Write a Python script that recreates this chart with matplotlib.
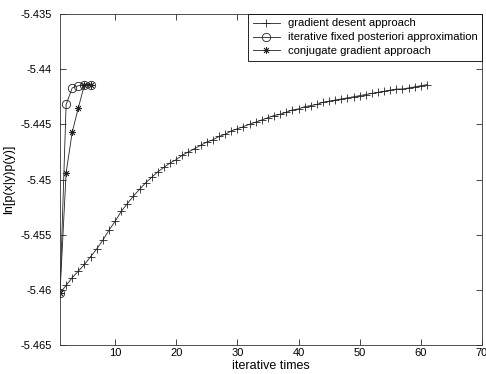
import matplotlib
matplotlib.use("Agg")
import matplotlib.pyplot as plt

plt.rcParams['font.family'] = ['Liberation Sans', 'DejaVu Sans']
plt.rcParams['axes.unicode_minus'] = False

# Gradient descent approach (iterations 1..61)
gd_x = list(range(1, 62))
gd_y = [-5.4603, -5.4596, -5.4589, -5.4583, -5.4577, -5.4570, -5.4563, -5.4555,
        -5.4546, -5.4538, -5.4529, -5.4522, -5.4515, -5.4509, -5.4503, -5.4498,
        -5.4493, -5.4489, -5.4485, -5.4482, -5.4478, -5.4475, -5.4472, -5.4469,
        -5.4466, -5.4464, -5.4461, -5.4459, -5.4456, -5.4454, -5.4452, -5.4450,
        -5.4448, -5.4446, -5.4444, -5.4442, -5.4441, -5.4439, -5.4437, -5.4436,
        -5.4434, -5.4433, -5.4432, -5.4430, -5.4429, -5.4428, -5.4427, -5.4426,
        -5.4425, -5.4424, -5.4423, -5.4422, -5.4421, -5.4420, -5.4419, -5.4418,
        -5.4418, -5.4417, -5.4416, -5.4415, -5.4414]

# Iterative fixed posteriori approximation
ifp_x = [1, 2, 3, 4, 5, 6]
ifp_y = [-5.4603, -5.4432, -5.4417, -5.4415, -5.4414, -5.4414]

# Conjugate gradient approach
cg_x = [1, 2, 3, 4, 5, 6]
cg_y = [-5.4603, -5.4494, -5.4457, -5.4435, -5.4414, -5.4414]

labels = ['gradient desent approach',
          'iterative fixed posteriori approximation',
          'conjugate gradient approach']

xticks = [10, 20, 30, 40, 50, 60, 70]
yticks = [-5.465, -5.46, -5.455, -5.45, -5.445, -5.44, -5.435]
ytick_labels = ['-5.465', '-5.46', '-5.455', '-5.45', '-5.445', '-5.44', '-5.435']

fig = plt.figure(figsize=(4.86, 3.74), dpi=100)
ax = fig.add_axes([60/486, 1-345/374, 422/486, 331/374])

lw = 0.6
ax.plot(gd_x, gd_y, color='#222222', lw=lw, marker='+', ms=6, mew=0.6, label=labels[0])
ax.plot(ifp_x, ifp_y, color='#222222', lw=lw, marker='o', ms=6, mfc='none', mew=0.6, label=labels[1])
ax.plot(cg_x, cg_y, color='#222222', lw=lw, marker=(8, 2, 0), ms=5, mew=0.6, label=labels[2])

ax.set_xlim(1, 70)
ax.set_ylim(-5.465, -5.435)
ax.set_xticks(xticks)
ax.set_yticks(yticks)
ax.set_yticklabels(ytick_labels)
ax.tick_params(direction='in', top=True, right=True, labelsize=8, length=4, width=0.5)
ax.tick_params(axis='x', pad=2.5)
ax.tick_params(axis='y', pad=6)
for s in ax.spines.values():
    s.set_linewidth(0.6)
    s.set_color('#333333')

ax.set_xlabel('iterative times', fontsize=9, labelpad=1)
ax.set_ylabel('ln[p(x|y)p(y)]', fontsize=9, labelpad=4)

leg = ax.legend(loc='upper right', fontsize=8.1, frameon=True, fancybox=False,
                framealpha=1, edgecolor='black', borderaxespad=0,
                handlelength=2.4, handletextpad=0.7, labelspacing=0.35,
                borderpad=0.4)
leg.get_frame().set_linewidth(0.6)

fig.savefig('out.png', dpi=100)
